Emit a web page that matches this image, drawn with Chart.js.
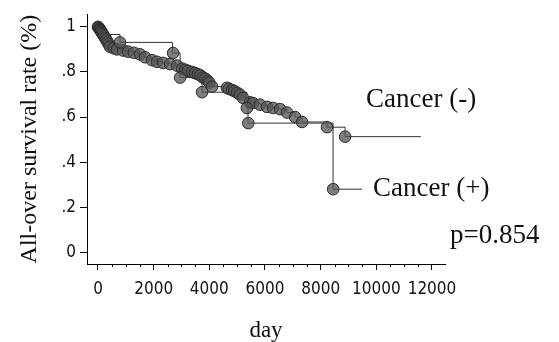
<!DOCTYPE html>
<html>
<head>
<meta charset="utf-8">
<script src="https://cdn.jsdelivr.net/npm/chart.js@4/dist/chart.umd.min.js"></script>
<style>
    html, body { margin: 0; padding: 0; background: #fff; }
</style>
</head>
<body>
<canvas id="kmChart" width="559" height="342"></canvas>
<script>
// Kaplan-Meier (days, survival)
const negCensorDays = [0, 20, 40, 60, 80, 100, 120, 150, 180, 220, 260, 300, 340, 380, 430, 560, 680, 900, 1080, 1290, 1510, 1690, 1940, 2120, 2340, 2590, 2840, 3020, 3130, 3230, 3380, 3480, 3590, 3680, 3770, 3860, 3950, 4000, 4100, 4630, 4700, 4820, 4900, 5000, 5100, 5210, 5460, 5570, 5820, 6070, 6290, 6540, 6790, 7080, 7330, 8230, 8880];
const negCensorSurv = [1.0, 0.997, 0.993, 0.99, 0.986, 0.982, 0.978, 0.972, 0.966, 0.958, 0.95, 0.942, 0.933, 0.924, 0.912, 0.905, 0.9, 0.895, 0.89, 0.885, 0.878, 0.865, 0.852, 0.845, 0.84, 0.835, 0.828, 0.815, 0.81, 0.805, 0.8, 0.795, 0.79, 0.785, 0.775, 0.77, 0.76, 0.752, 0.735, 0.73, 0.725, 0.72, 0.715, 0.708, 0.7, 0.685, 0.665, 0.662, 0.655, 0.645, 0.64, 0.635, 0.62, 0.6, 0.578, 0.555, 0.513];
const negLastDay = 11600;

const posCurveDays = [0, 250, 790, 2680, 2950, 3740, 5350, 5390, 8445, 9490];
const posCurveSurv = [1.0, 0.966, 0.931, 0.884, 0.775, 0.71, 0.64, 0.573, 0.28, 0.28];
const posCensorDays = [790, 2700, 2950, 3740, 5350, 5400, 8450];
const posCensorSurv = [0.931, 0.884, 0.775, 0.71, 0.64, 0.573, 0.28];

const xTickValues = [0, 2000, 4000, 6000, 8000, 10000, 12000];
const yTickValues = [0, 0.2, 0.4, 0.6, 0.8, 1];
const yTickLabels = ['0', '.2', '.4', '.6', '.8', '1'];

function toPoints(days, surv) {
    return days.map((d, i) => ({ x: d, y: surv[i] }));
}

const negCurve = toPoints([...negCensorDays, negLastDay], [...negCensorSurv, negCensorSurv[negCensorSurv.length - 1]]);
const posCurve = toPoints(posCurveDays, posCurveSurv);

const serif = "'Liberation Serif', 'Times New Roman', serif";
const narrow = "'Liberation Sans Narrow', 'DejaVu Sans Condensed', sans-serif";

const markerStyle = {
    showLine: false,
    pointRadius: 5.8,
    pointBorderWidth: 1,
    pointBackgroundColor: 'rgba(85, 85, 85, 0.76)',
    pointBorderColor: '#2b2b2b',
};
const curveStyle = {
    showLine: true,
    stepped: 'before',
    borderColor: '#333',
    borderWidth: 1,
    pointRadius: 0,
    fill: false,
};

// minor ticks every 500 days + the text next to the curves
const extras = {
    id: 'extras',
    afterDraw(chart) {
        const ctx = chart.ctx;
        const xs = chart.scales.x, ys = chart.scales.y;
        ctx.save();
        ctx.strokeStyle = '#000';
        ctx.lineWidth = 1;
        for (let d = 500; d < 12000; d += 500) {
            if (d % 2000 === 0) continue;
            const px = Math.round(xs.getPixelForValue(d)) + 0.5;
            ctx.beginPath();
            ctx.moveTo(px, ys.bottom);
            ctx.lineTo(px, ys.bottom + 3);
            ctx.stroke();
        }
        ctx.fillStyle = '#111';
        ctx.font = '27px ' + serif;
        ctx.textBaseline = 'middle';
        ctx.textAlign = 'left';
        ctx.fillText('Cancer (-)', xs.getPixelForValue(9630), ys.getPixelForValue(0.677));
        ctx.fillText('Cancer (+)', xs.getPixelForValue(9880), ys.getPixelForValue(0.28));
        ctx.fillText('p=0.854', xs.getPixelForValue(12650), ys.getPixelForValue(0.073));
        ctx.restore();
    }
};

const ctx = document.getElementById('kmChart').getContext('2d');
let kmChart = new Chart(ctx, {
    type: 'scatter',
    data: {
        datasets: [
            Object.assign({ label: 'Cancer (+) censored', data: toPoints(posCensorDays, posCensorSurv) }, markerStyle),
            Object.assign({ label: 'Cancer (-) censored', data: toPoints(negCensorDays, negCensorSurv) }, markerStyle),
            Object.assign({ label: 'Cancer (+)', data: posCurve }, curveStyle),
            Object.assign({ label: 'Cancer (-)', data: negCurve }, curveStyle),
        ]
    },
    options: {
        responsive: false,
        animation: false,
        layout: { padding: { top: 7, right: 114, left: 0, bottom: 0 } },
        plugins: { legend: { display: false }, tooltip: { enabled: false } },
        scales: {
            x: {
                type: 'linear',
                min: -395,
                max: 12468,
                afterBuildTicks: (s) => { s.ticks = xTickValues.map((v) => ({ value: v })); },
                afterFit: (s) => { s.height = 78; },
                border: { display: true, color: '#000', width: 1 },
                grid: { drawOnChartArea: false, drawTicks: true, tickLength: 6, color: '#000' },
                ticks: {
                    maxRotation: 0,
                    autoSkip: false,
                    padding: 9,
                    color: '#111',
                    font: { family: narrow, size: 17 },
                    callback: (v) => String(v),
                },
                title: {
                    display: true,
                    text: 'day',
                    color: '#111',
                    padding: 0,
                    font: { family: serif, size: 23, lineHeight: 1 },
                },
            },
            y: {
                type: 'linear',
                min: -0.0517,
                max: 1.056,
                afterBuildTicks: (s) => { s.ticks = yTickValues.map((v) => ({ value: v })); },
                afterFit: (s) => { s.width = 87; },
                border: { display: true, color: '#000', width: 1 },
                grid: { drawOnChartArea: false, drawTicks: true, tickLength: 7, color: '#000' },
                ticks: {
                    padding: 4,
                    color: '#111',
                    font: { family: narrow, size: 17 },
                    callback: (v) => yTickLabels[Math.round(v * 5)],
                },
                title: {
                    display: true,
                    text: 'All-over survival rate (%)',
                    color: '#111',
                    padding: { top: 15, bottom: 0 },
                    font: { family: serif, size: 24, lineHeight: 1.2 },
                },
            },
        },
    },
    plugins: [extras],
});
</script>
</body>
</html>
